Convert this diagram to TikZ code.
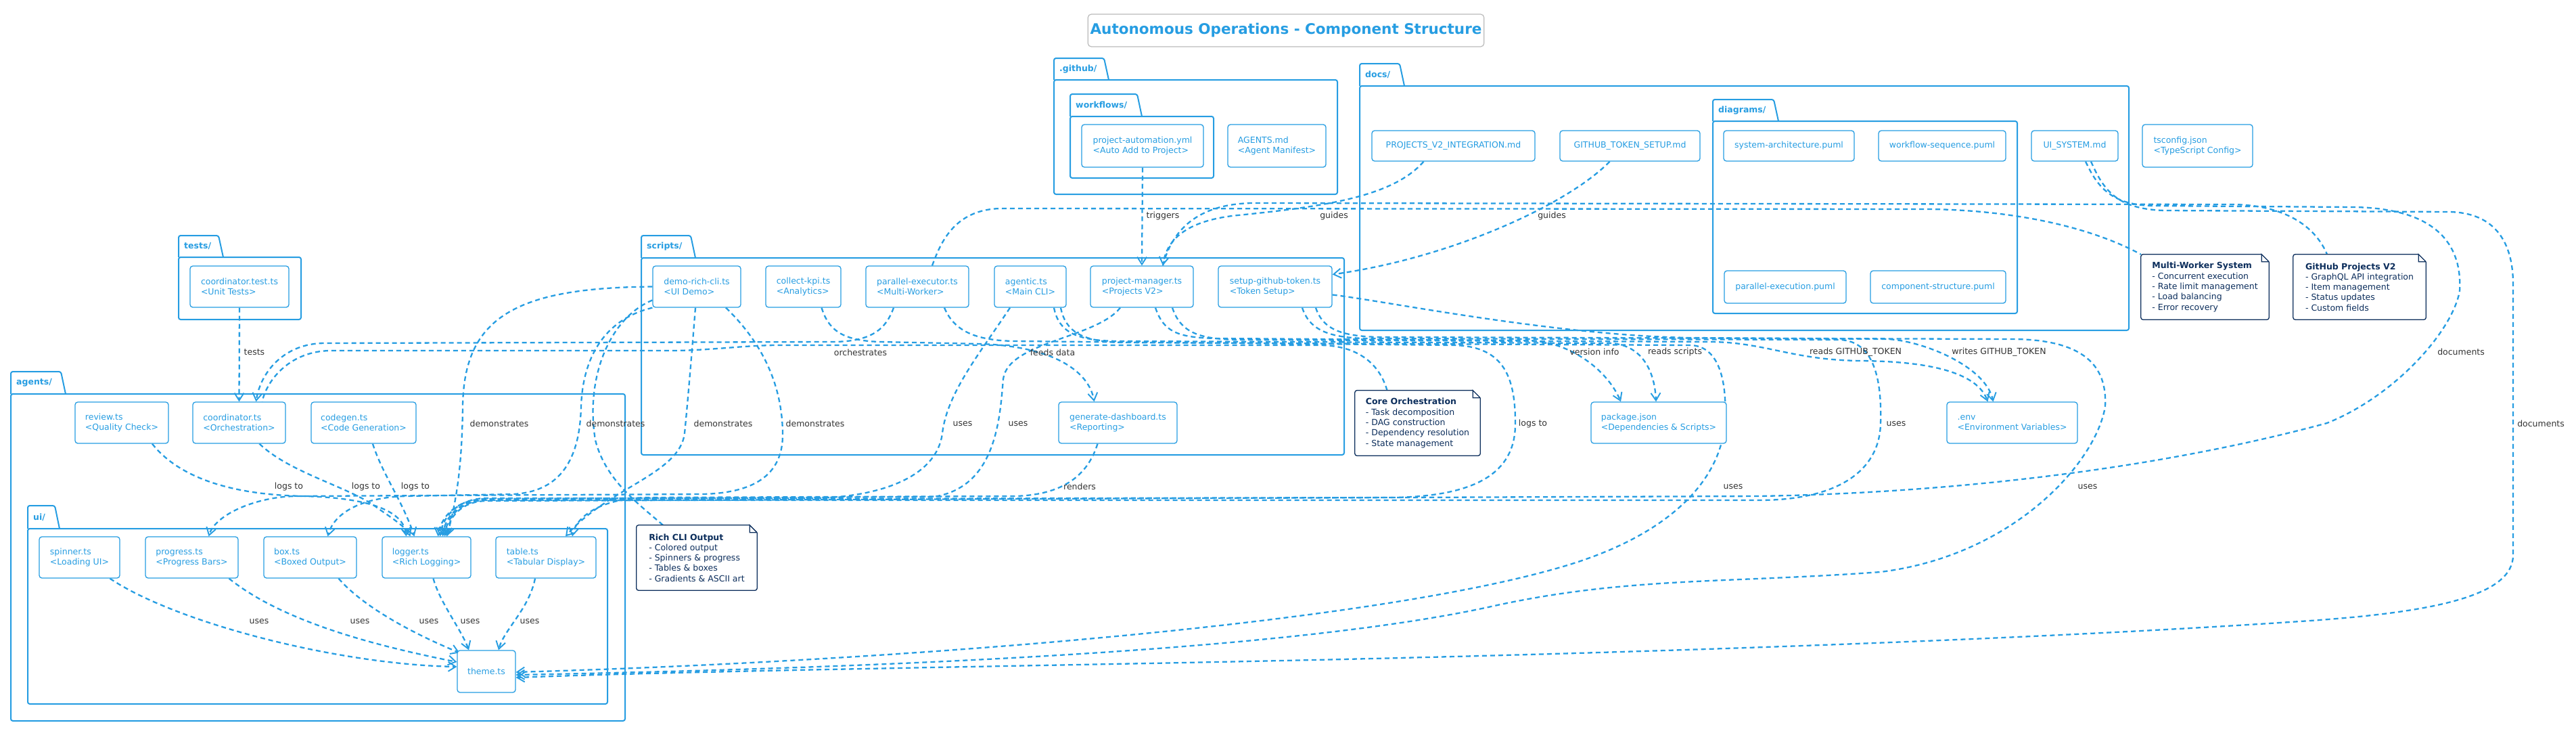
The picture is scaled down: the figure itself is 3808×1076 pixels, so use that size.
\documentclass[tikz,border=0pt]{standalone}
\usepackage{fontspec}
\setmainfont{DejaVu Sans}
\usetikzlibrary{arrows.meta}
\definecolor{pblue}{RGB}{38,157,226}
\definecolor{pnavy}{RGB}{12,46,92}
\definecolor{plabel}{RGB}{51,51,51}
\definecolor{ptitle}{RGB}{187,187,187}
\pgfdeclarelayer{bg}
\pgfdeclarelayer{edges}
\pgfsetlayers{bg,edges,main}
\tikzset{
  fbox/.style={draw=pblue, line width=1.3pt, rounded corners=4pt, fill=white, text=pblue, font=\fontsize{12.5}{15}\selectfont, align=left, inner sep=0pt},
  pnote/.style={fill=white, text=pnavy, font=\fontsize{12.5}{15.3}\selectfont, align=left, inner sep=0pt},
  flabel/.style={text=pblue, font=\bfseries\fontsize{12.5}{15}\selectfont, inner sep=0pt, anchor=west},
  fold/.style={draw=pblue, line width=2pt, rounded corners=3pt},
  dep/.style={draw=pblue, line width=2.3pt, dash pattern=on 7pt off 5pt, -{Straight Barb[length=11pt,width=14pt,line width=1.9pt]}},
  nlink/.style={draw=pblue, line width=2.3pt, dash pattern=on 7pt off 5pt},
  lbl/.style={text=plabel, font=\fontsize{12.5}{15}\selectfont, inner sep=0pt},
  ttl/.style={draw=ptitle, line width=1.2pt, rounded corners=5pt, fill=white, text=pblue, font=\bfseries\fontsize{21.5}{25}\selectfont, minimum width=578pt, minimum height=48pt},
}
\newcommand\fnode[6]{\node[fbox, minimum width=#4pt, minimum height=#5pt] (#1) at (#2,#3) {#6};}
\newcommand\notebox[6]{%
  \node[pnote, minimum width=#4pt, minimum height=#5pt] (#1) at (#2,#3) {#6};
  \draw[pnavy, line width=1.3pt, rounded corners=3pt] ([xshift=-11pt]#1.north east) -- (#1.north west) -- (#1.south west) -- (#1.south east) -- ([yshift=-11pt]#1.north east);
  \draw[pnavy, line width=1.3pt] ([yshift=-11pt]#1.north east) -- ([xshift=-11pt]#1.north east) -- ([xshift=-11pt,yshift=-11pt]#1.north east) -- ([yshift=-11pt]#1.north east);
}
\newcommand\pfolder[8]{%
  \draw[fold] (#2,#5) -- (#2,#4) -- ({#7-7},#4) -- (#7,#5);
  \draw[fold] (#2,#5) rectangle (#3,#6);
  \node[flabel] (#1) at ({#2+8},{(#4+#5)/2}) {#8};
}
\begin{document}
\begin{tikzpicture}[x=1pt,y=-1pt]
\useasboundingbox (0,0) rectangle (3808,1076);
\begin{pgfonlayer}{bg}
\fill[white] (0,0) rectangle (3808,1076);
\pfolder{fgithub}{1558}{1977}{86}{118}{287}{1639}{.github/}
\pfolder{fworkflows}{1582}{1794}{139}{172}{263}{1688}{workflows/}
\pfolder{fdocs}{2010}{3147}{94}{127}{488}{2076}{docs/}
\pfolder{fdiagrams}{2532}{2982}{147}{179}{463}{2629}{diagrams/}
\pfolder{ftests}{264}{445}{348}{380}{472}{330}{tests/}
\pfolder{fagents}{16}{924}{549}{582}{1065}{97}{agents/}
\pfolder{fui}{41}{898}{747}{781}{1040}{88}{ui/}
\pfolder{fscripts}{948}{1987}{348}{381}{672}{1028}{scripts/}
\end{pgfonlayer}

\node[ttl] (title) at (1901,45) {Autonomous Operations - Component Structure};

\fnode{cttest}{354}{423.5}{146}{61}{coordinator.test.ts\\<Unit Tests>}
\fnode{coord}{353.5}{624.5}{137}{61}{coordinator.ts\\<Orchestration>}
\fnode{review}{180}{624.5}{138}{61}{review.ts\\<Quality Check>}
\fnode{codegen}{537.5}{624.5}{155}{61}{codegen.ts\\<Code Generation>}
\fnode{spinner}{117.5}{823.5}{119}{61}{spinner.ts\\<Loading UI>}
\fnode{progress}{283.5}{823.5}{137}{61}{progress.ts\\<Progress Bars>}
\fnode{box}{458.5}{823.5}{137}{61}{box.ts\\<Boxed Output>}
\fnode{logger}{630.5}{823.5}{131}{61}{logger.ts\\<Rich Logging>}
\fnode{table}{807}{823.5}{148}{61}{table.ts\\<Tabular Display>}
\fnode{theme}{719}{992}{86}{62}{theme.ts}
\fnode{demo}{1030}{423.5}{130}{61}{demo-rich-cli.ts\\<UI Demo>}
\fnode{kpi}{1187.5}{423.5}{111}{61}{collect-kpi.ts\\<Analytics>}
\fnode{par}{1356}{423.5}{152}{61}{parallel-executor.ts\\<Multi-Worker>}
\fnode{agentic}{1523}{423.5}{106}{61}{agentic.ts\\<Main CLI>}
\fnode{pm}{1688}{423.5}{152}{61}{project-manager.ts\\<Projects V2>}
\fnode{sgt}{1885}{423.5}{168}{61}{setup-github-token.ts\\<Token Setup>}
\fnode{gendash}{1652.5}{624.5}{175}{61}{generate-dashboard.ts\\<Reporting>}
\fnode{pauto}{1689}{215.5}{180}{63}{project-automation.yml\\<Auto Add to Project>}
\fnode{agentsmd}{1887.5}{215.5}{145}{63}{AGENTS.md\\<Agent Manifest>}
\fnode{projv2}{2148.5}{215.5}{241}{45}{PROJECTS\_V2\_INTEGRATION.md}
\fnode{ghtok}{2409.5}{215.5}{207}{45}{GITHUB\_TOKEN\_SETUP.md}
\fnode{sysarch}{2644.5}{215.5}{193}{45}{system-architecture.puml}
\fnode{wfseq}{2871}{215.5}{188}{45}{workflow-sequence.puml}
\fnode{parexec}{2639}{424}{180}{48}{parallel-execution.puml}
\fnode{compstr}{2865}{424}{200}{48}{component-structure.puml}
\fnode{uisys}{3067}{215.5}{128}{45}{UI\_SYSTEM.md}
\fnode{tsconfig}{3248.5}{215.5}{163}{63}{tsconfig.json\\<TypeScript Config>}
\fnode{pkg}{2452}{624.5}{200}{61}{package.json\\<Dependencies \& Scripts>}
\fnode{env}{2974.5}{624.5}{193}{61}{.env\\<Environment Variables>}

\notebox{multiworker}{3259.5}{424}{189}{96}{\textbf{Multi-Worker System}\\- Concurrent execution\\- Rate limit management\\- Load balancing\\- Error recovery}
\notebox{ghv2}{3488}{424}{196}{96}{\textbf{GitHub Projects V2}\\- GraphQL API integration\\- Item management\\- Status updates\\- Custom fields}
\notebox{coreorch}{2095.5}{625}{185}{96}{\textbf{Core Orchestration}\\- Task decomposition\\- DAG construction\\- Dependency resolution\\- State management}
\notebox{richcli}{1030}{824}{178}{96}{\textbf{Rich CLI Output}\\- Colored output\\- Spinners \& progress\\- Tables \& boxes\\- Gradients \& ASCII art}

\begin{pgfonlayer}{edges}
% top area
\draw[dep] (cttest.south) -- (coord.north);
\draw[dep] (pauto.south) -- (pm.north);
\draw[dep] ([xshift=-44pt]projv2.south) .. controls (2060,290) and (1960,305) .. (1830,318) .. controls (1760,325) and (1725,350) .. ([xshift=31pt]pm.north);
\draw[dep] ([xshift=-30pt]ghtok.south) .. controls (2320,300) and (2150,380) .. ([yshift=18pt]sgt.east);
% orchestrates
\draw[dep] ([xshift=-35pt]par.south) .. controls (1310,485) and (1290,505) .. (1230,505) -- (480,507) .. controls (420,507) and (385,550) .. ([xshift=25pt]coord.north);
\draw[nlink] ([xshift=-45pt]coreorch.north) .. controls (2040,540) and (2010,510) .. (1950,510) -- (1150,510) .. controls (1100,510) and (1050,518) .. (990,518) -- (490,518) .. controls (430,518) and (395,560) .. ([xshift=34pt]coord.north);
% feeds data / renders
\draw[dep] ([xshift=27pt]kpi.south) .. controls (1225,488) and (1245,503) .. (1300,505) -- (1450,508) .. controls (1560,512) and (1610,550) .. ([xshift=-35pt]gendash.north);
\draw[dep] ([xshift=-30pt]gendash.south) .. controls (1610,695) and (1580,731) .. (1500,733) -- (960,735) .. controls (895,735) and (852,760) .. ([xshift=39pt]table.north);
% demonstrates
\draw[dep] (demo.west) .. controls (760,425) and (686,470) .. (684,600) .. controls (683,700) and (672,750) .. ([xshift=30pt]logger.north);
\draw[dep] (demo.south west) .. controls (900,470) and (862,520) .. (859,600) .. controls (857,690) and (820,726) .. (760,730) -- (600,733) .. controls (530,735) and (493,760) .. ([xshift=26pt]box.north);
\draw[dep] ([xshift=-2pt]demo.south) .. controls (1022,530) and (1016,600) .. (1012,640) .. controls (1005,700) and (900,720) .. ([xshift=29pt]table.north);
\draw[dep] ([xshift=43pt]demo.south) .. controls (1120,500) and (1156,560) .. (1157,640) .. controls (1158,705) and (1110,728) .. (1040,730) -- (440,733) .. controls (380,733) and (318,760) .. ([xshift=25pt]progress.north);
\draw[nlink] ([xshift=-50pt]richcli.north) .. controls (945,745) and (895,710) .. (880,650) .. controls (865,560) and (900,470) .. ([yshift=-20pt]demo.west);
% scripts -> logger
\draw[dep] ([xshift=-30pt]agentic.south) .. controls (1450,520) and (1400,580) .. (1393,640) .. controls (1385,705) and (1300,735) .. (1200,736) -- (720,736) .. controls (680,736) and (655,760) .. ([xshift=20pt]logger.north);
\draw[dep] ([xshift=-32pt]pm.south) .. controls (1620,500) and (1490,505) .. (1483,560) .. controls (1478,620) and (1472,720) .. (1380,734) -- (720,737) .. controls (676,737) and (652,762) .. ([xshift=17pt]logger.north);
\draw[dep] ([xshift=40pt]par.south) .. controls (1410,488) and (1440,503) .. (1500,504) -- (2150,510) .. controls (2225,512) and (2240,560) .. (2240,626) .. controls (2240,700) and (2180,733) .. (2060,735) -- (720,738) .. controls (678,738) and (657,765) .. ([xshift=24pt]logger.north);
\draw[dep] ([xshift=40pt]sgt.south) .. controls (1935,485) and (1960,499) .. (2020,500) -- (2720,502) .. controls (2770,504) and (2782,560) .. (2780,626) .. controls (2778,700) and (2710,739) .. (2600,739) -- (720,739) .. controls (680,739) and (660,765) .. ([xshift=27pt]logger.north);
% package.json / .env
\draw[dep] ([xshift=35pt]agentic.south) .. controls (1565,490) and (1590,503) .. (1650,504) -- (2380,507) .. controls (2425,509) and (2446,545) .. ([xshift=-4pt]pkg.north);
\draw[dep] ([xshift=20pt]pm.south) .. controls (1720,490) and (1740,499) .. (1800,500) -- (2260,503) .. controls (2320,505) and (2375,545) .. ([xshift=-56pt]pkg.north);
\draw[dep] ([xshift=45pt]pm.south) .. controls (1745,490) and (1770,501) .. (1830,502) -- (2530,505) .. controls (2610,506) and (2650,532) .. (2750,533) .. controls (2880,534) and (2926,560) .. ([xshift=-36pt]env.north);
\draw[dep] ([yshift=-12pt]sgt.east) .. controls (2050,445) and (2300,496) .. (2500,499) -- (2790,501) .. controls (2840,503) and (2935,540) .. ([xshift=-28pt]env.north);
% scripts -> theme
\draw[dep] ([xshift=45pt]agentic.south) .. controls (1575,490) and (1600,505) .. (1660,506) -- (2500,510) .. controls (2540,512) and (2553,560) .. (2550,620) .. controls (2547,700) and (2480,790) .. (2300,840) .. controls (2000,925) and (1300,978) .. ([yshift=-1pt]theme.east);
\draw[dep] ([xshift=60pt]sgt.south) .. controls (1955,485) and (1980,497) .. (2040,498) -- (2980,501) .. controls (3080,503) and (3115,540) .. (3112,600) .. controls (3100,680) and (2980,820) .. (2780,845) .. controls (2550,862) and (2400,852) .. (2200,897) .. controls (1900,962) and (1300,987) .. ([yshift=-5pt]theme.east);
% UI_SYSTEM documents
\draw[dep] ([xshift=16pt]uisys.south) .. controls (3100,275) and (3120,302) .. (3180,304) -- (3480,306) .. controls (3600,308) and (3640,360) .. (3636,430) .. controls (3625,490) and (3540,585) .. (3440,625) .. controls (3200,690) and (2900,728) .. (2600,733) -- (720,740) .. controls (682,740) and (662,765) .. ([xshift=30pt]logger.north);
\draw[dep] ([xshift=24pt]uisys.south) .. controls (3110,282) and (3130,309) .. (3200,311) -- (3620,313) .. controls (3690,314) and (3715,360) .. (3715,420) -- (3715,820) .. controls (3715,880) and (3600,905) .. (3400,918) .. controls (3000,945) and (2400,966) .. (1800,978) .. controls (1400,986) and (1000,992) .. ([yshift=-9pt]theme.east);
% notes
\draw[nlink] ([xshift=22pt]par.north) .. controls (1390,360) and (1410,309) .. (1480,308) -- (2850,309) .. controls (2960,310) and (3080,330) .. (multiworker.north west);
\draw[nlink] ([xshift=31pt]pm.north) .. controls (1730,350) and (1760,302) .. (1850,300) -- (3300,302) .. controls (3385,303) and (3425,340) .. ([xshift=-48pt]ghv2.north);
% agents -> logger
\draw[dep] ([xshift=45pt]review.south) .. controls (260,700) and (330,731) .. (450,733) .. controls (560,736) and (598,760) .. ([xshift=-30pt]logger.north);
\draw[dep] ([xshift=30pt]coord.south) .. controls (430,700) and (520,720) .. (560,752) .. controls (590,772) and (602,782) .. ([xshift=-24pt]logger.north);
\draw[dep] ([xshift=13.5pt]codegen.south) .. controls (565,700) and (595,740) .. ([xshift=-18pt]logger.north);
% ui -> theme
\draw[dep] ([xshift=45pt]spinner.south) .. controls (260,920) and (500,982) .. ([yshift=7pt]theme.west);
\draw[dep] ([xshift=55pt]progress.south) .. controls (420,920) and (560,955) .. ([yshift=14pt]theme.west);
\draw[dep] ([xshift=42pt]box.south) .. controls (540,900) and (620,940) .. ([xshift=4pt,yshift=-4pt]theme.north west);
\draw[dep] ([xshift=10pt]logger.south) .. controls (650,890) and (682,930) .. ([xshift=-26pt]theme.north);
\draw[dep] ([xshift=-16pt]table.south) .. controls (782,900) and (745,930) .. ([xshift=18pt]theme.north);
\end{pgfonlayer}

% labels
\node[lbl] (l01) at (376,520) {tests};
\node[lbl] (l02) at (1719,319) {triggers};
\node[lbl] (l03) at (1972,319) {guides};
\node[lbl] (l04) at (2294,319) {guides};
\node[lbl] (l05) at (1272,521) {orchestrates};
\node[lbl] (l06) at (1556,521) {feeds data};
\node[lbl] (l07) at (2357,520) {version info};
\node[lbl] (l08) at (2476,520) {reads scripts};
\node[lbl] (l09) at (2743,520) {reads GITHUB\_TOKEN};
\node[lbl] (l10) at (2955,520) {writes GITHUB\_TOKEN};
\node[lbl] (l11) at (3638,520) {documents};
\node[lbl] (l12) at (3756,626) {documents};
\node[lbl] (l13) at (738,626) {demonstrates};
\node[lbl] (l14) at (910,626) {demonstrates};
\node[lbl] (l15) at (1069,626) {demonstrates};
\node[lbl] (l16) at (1205,626) {demonstrates};
\node[lbl] (l17) at (1423,626) {uses};
\node[lbl] (l18) at (1505,626) {uses};
\node[lbl] (l19) at (2266,626) {logs to};
\node[lbl] (l20) at (2803,626) {uses};
\node[lbl] (l21) at (427,719) {logs to};
\node[lbl] (l22) at (541,719) {logs to};
\node[lbl] (l23) at (614,719) {logs to};
\node[lbl] (l24) at (1596,719) {renders};
\node[lbl] (l25) at (2562,719) {uses};
\node[lbl] (l26) at (3086,719) {uses};
\node[lbl] (l27) at (383,918) {uses};
\node[lbl] (l28) at (532,918) {uses};
\node[lbl] (l29) at (634,918) {uses};
\node[lbl] (l30) at (695,918) {uses};
\node[lbl] (l31) at (783,918) {uses};
\end{tikzpicture}
\end{document}
